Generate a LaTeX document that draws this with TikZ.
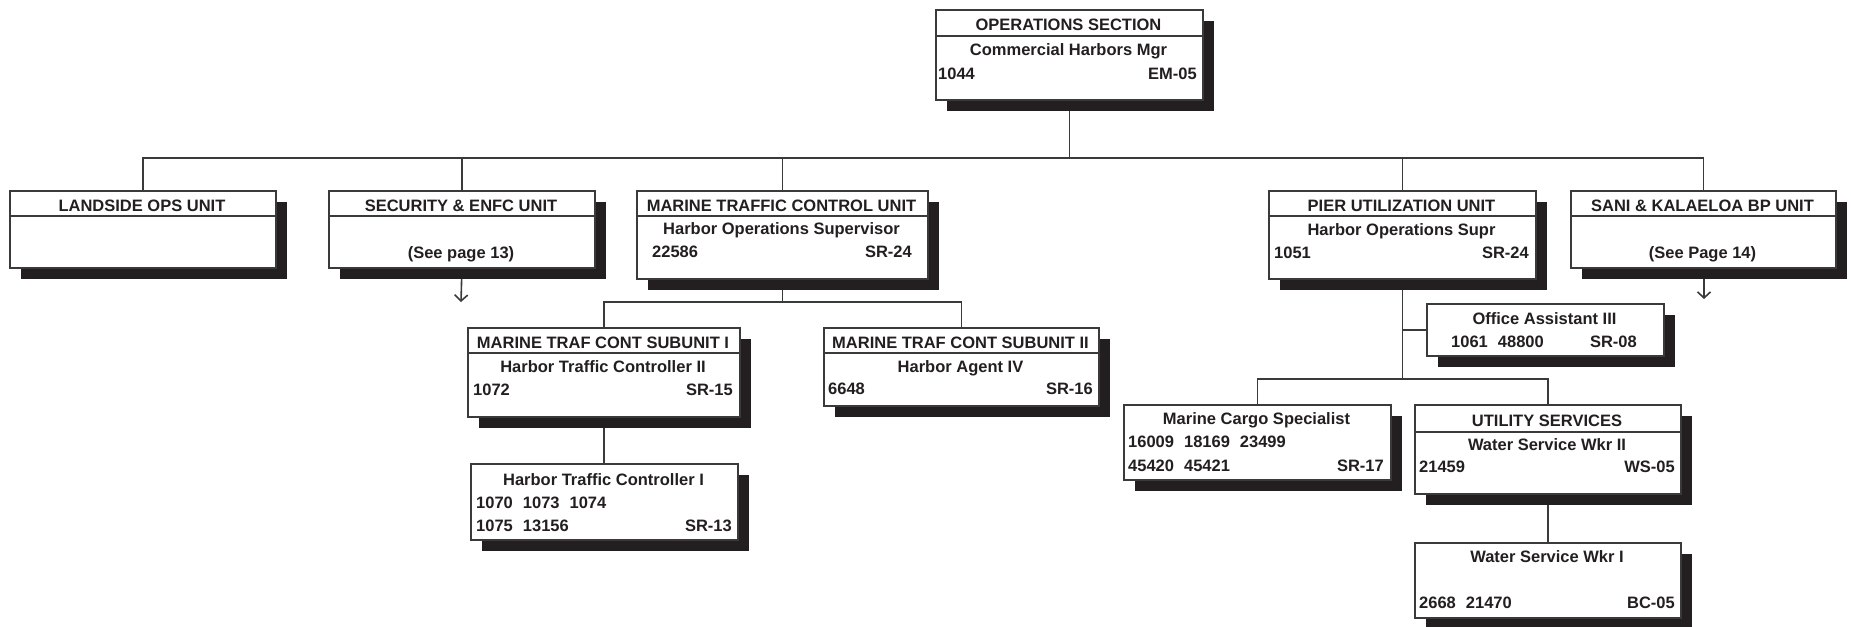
\documentclass[tikz,border=0pt]{standalone}
\usepackage{fontspec}
\setmainfont{Liberation Sans}
\usetikzlibrary{shadows,backgrounds,arrows.meta}
\definecolor{ink}{HTML}{231F20}
\definecolor{edgec}{HTML}{3A3A3A}
\newcommand\gp{\hspace{10pt}}
\begin{document}
\begin{tikzpicture}[x=1pt,y=-1pt,
  obox/.style={rectangle, draw=edgec, line width=1.8pt, fill=white, inner sep=0pt, anchor=north west,
    drop shadow={shadow xshift=11pt, shadow yshift=-11pt, fill=ink, opacity=1}},
  divl/.style={draw=edgec, line width=1.8pt},
  conn/.style={draw=edgec, line width=1.6pt},
  arr/.style={conn, -{Straight Barb[length=6pt,width=13pt,line width=1.6pt]}},
  t/.style={inner sep=0pt, text=ink, anchor=base, font=\fontsize{16.5}{20}\selectfont\bfseries},
  tl/.style={t, anchor=base west},
  tr/.style={t, anchor=base east},
]
\useasboundingbox (0,0) rectangle (1851,626);

% boxes
\node[obox, minimum width=267pt, minimum height=90pt] (ops) at (935,9) {};
\node[obox, minimum width=266pt, minimum height=77pt] (landside) at (9,190) {};
\node[obox, minimum width=266pt, minimum height=77pt] (security) at (328,190) {};
\node[obox, minimum width=291pt, minimum height=88pt] (mtcu) at (636,190) {};
\node[obox, minimum width=267pt, minimum height=88pt] (pier) at (1268,190) {};
\node[obox, minimum width=265pt, minimum height=77pt] (sani) at (1570,190) {};
\node[obox, minimum width=272pt, minimum height=89pt] (sub1) at (467,327) {};
\node[obox, minimum width=275pt, minimum height=78pt] (sub2) at (823,327) {};
\node[obox, minimum width=267pt, minimum height=76pt] (htc1) at (470,463) {};
\node[obox, minimum width=237pt, minimum height=52pt] (oa) at (1426,303) {};
\node[obox, minimum width=267pt, minimum height=75pt] (mcs) at (1123,404) {};
\node[obox, minimum width=266pt, minimum height=89pt] (util) at (1414,404) {};
\node[obox, minimum width=266pt, minimum height=75pt] (wsw1) at (1414,542) {};

% header dividers
\draw[divl] (ops.west |- 0,36) -- (ops.east |- 0,36);
\foreach \b in {landside,security,mtcu,pier,sani}
  \draw[divl] (\b.west |- 0,216) -- (\b.east |- 0,216);
\draw[divl] (sub1.west |- 0,353) -- (sub1.east |- 0,353);
\draw[divl] (sub2.west |- 0,353) -- (sub2.east |- 0,353);
\draw[divl] (util.west |- 0,432) -- (util.east |- 0,432);

% texts
\node[t] (opsh) at (1068.5,31) {OPERATIONS SECTION};
\node[t] (opst) at (1068.5,56) {Commercial Harbors Mgr};
\node[tl] (opsn) at (938,79) {1044};
\node[tr] (opsg) at (1197,79) {EM-05};

\node[t] (landh) at (142,211) {LANDSIDE OPS UNIT};

\node[t] (sech) at (461,211) {SECURITY \& ENFC UNIT};
\node[t] (secs) at (461,258) {(See page 13)};

\node[t] (mtcuh) at (781.5,211) {MARINE TRAFFIC CONTROL UNIT};
\node[t] (mtcut) at (781.5,234) {Harbor Operations Supervisor};
\node[tl] (mtcun) at (652,257) {22586};
\node[tr] (mtcug) at (912,257) {SR-24};

\node[t] (pierh) at (1401.5,211) {PIER UTILIZATION UNIT};
\node[t] (piert) at (1401.5,235) {Harbor Operations Supr};
\node[tl] (piern) at (1274,258) {1051};
\node[tr] (pierg) at (1529,258) {SR-24};

\node[t] (sanih) at (1702.5,211) {SANI \& KALAELOA BP UNIT};
\node[t] (sanis) at (1702.5,258) {(See Page 14)};

\node[t] (sub1h) at (603,348) {MARINE TRAF CONT SUBUNIT I};
\node[t] (sub1t) at (603,372) {Harbor Traffic Controller II};
\node[tl] (sub1n) at (473,395) {1072};
\node[tr] (sub1g) at (733,395) {SR-15};

\node[t] (sub2h) at (960.5,348) {MARINE TRAF CONT SUBUNIT II};
\node[t] (sub2t) at (960.5,372) {Harbor Agent IV};
\node[tl] (sub2n) at (828,394) {6648};
\node[tr] (sub2g) at (1093,394) {SR-16};

\node[t] (htct) at (603.5,485) {Harbor Traffic Controller I};
\node[tl] (htcn1) at (476,508) {1070\gp1073\gp1074};
\node[tl] (htcn2) at (476,531) {1075\gp13156};
\node[tr] (htcg) at (732,531) {SR-13};

\node[t] (oat) at (1544.5,324) {Office Assistant III};
\node[tl] (oan) at (1451,347) {1061\gp48800};
\node[tr] (oag) at (1637,347) {SR-08};

\node[t] (mcst) at (1256.5,424) {Marine Cargo Specialist};
\node[tl] (mcsn1) at (1128,447) {16009\gp18169\gp23499};
\node[tl] (mcsn2) at (1128,471) {45420\gp45421};
\node[tr] (mcsg) at (1384,471) {SR-17};

\node[t] (utilh) at (1547,426) {UTILITY SERVICES};
\node[t] (utilt) at (1547,450) {Water Service Wkr II};
\node[tl] (utiln) at (1419,472) {21459};
\node[tr] (utilg) at (1675,472) {WS-05};

\node[t] (wswt) at (1547,562) {Water Service Wkr I};
\node[tl] (wswn) at (1419,608) {2668\gp21470};
\node[tr] (wswg) at (1675,608) {BC-05};

% connectors
\coordinate (hl) at (0,158);
\coordinate (h2) at (0,302);
\coordinate (h3) at (0,379);
\coordinate (secend) at (461,302);
\coordinate (saniend) at (1704,299);
\begin{pgfonlayer}{background}
\draw[conn] (ops.south) -- (ops.south |- hl);
\draw[conn] (landside.north) -- (landside.north |- hl) -- (sani.north |- hl) -- (sani.north);
\draw[conn] (security.north) -- (security.north |- hl);
\draw[conn] (mtcu.north) -- (mtcu.north |- hl);
\draw[conn] (pier.north) -- (pier.north |- hl);
\draw[arr] (security.south) -- (secend);
\draw[arr] (sani.south -| saniend) -- (saniend);
\draw[conn] (mtcu.south) -- (mtcu.south |- h2);
\draw[conn] (sub1.north) -- (sub1.north |- h2) -- (sub2.north |- h2) -- (sub2.north);
\draw[conn] (sub1.south) -- (sub1.south |- htc1.north);
\draw[conn] (pier.south) -- (pier.south |- h3);
\draw[conn] (pier.south |- oa.west) -- (oa.west);
\draw[conn] (mcs.north) -- (mcs.north |- h3) -- (util.north |- h3) -- (util.north);
\draw[conn] (util.south) -- (wsw1.north);
\end{pgfonlayer}
\end{tikzpicture}
\end{document}
